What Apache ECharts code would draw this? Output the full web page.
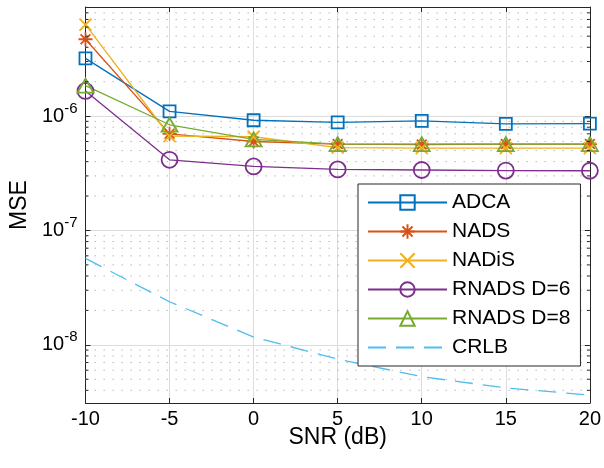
<!DOCTYPE html>
<html>
<head>
<meta charset="utf-8">
<script src="https://cdn.jsdelivr.net/npm/echarts@6/dist/echarts.min.js"></script>
<style>
html,body{margin:0;padding:0;background:#fff}
#main{width:604px;height:468px}
</style>
</head>
<body>
<div id="main"></div>
<script>
// SNR (dB)
var snr = [-10, -5, 0, 5, 10, 15, 20];
// MSE values
var adca  = [3.2e-6, 1.1e-6, 0.92e-6, 0.88e-6, 0.91e-6, 0.855e-6, 0.86e-6];
var nads  = [4.7e-6, 0.70e-6, 0.60e-6, 0.57e-6, 0.565e-6, 0.57e-6, 0.57e-6];
var nadis = [6.3e-6, 0.67e-6, 0.66e-6, 0.53e-6, 0.525e-6, 0.525e-6, 0.525e-6];
var rnads6 = [1.66e-6, 0.415e-6, 0.363e-6, 0.342e-6, 0.338e-6, 0.334e-6, 0.333e-6];
var rnads8 = [1.85e-6, 0.84e-6, 0.625e-6, 0.57e-6, 0.568e-6, 0.568e-6, 0.568e-6];
var crlb  = [5.7e-8, 2.38e-8, 1.17e-8, 7.5e-9, 5.27e-9, 4.2e-9, 3.64e-9];

var names = ['ADCA', 'NADS', 'NADiS', 'RNADS D=6', 'RNADS D=8', 'CRLB'];
var colors = ['#0072BD', '#D95319', '#EDB120', '#7E2F8E', '#77AC30', '#4DBEEE'];

var yMin = 3.1e-9, yMax = 9e-6;
var xMin = -10, xMax = 20;

// minor log grid values (2..9 x 10^k)
var minorVals = [];
for (var e = -9; e <= -6; e++) {
    for (var m = 2; m <= 9; m++) {
        var v = m * Math.pow(10, e);
        if (v > yMin && v < yMax) minorVals.push(v);
    }
}

function pairs(ys) {
    return snr.map(function (x, i) { return [x, ys[i]]; });
}

var symSquare = 'path://M0,0L10,0L10,10L0,10Z';
var symStar = 'path://M5,0L5,10M0,5L10,5M1.5,1.5L8.5,8.5M1.5,8.5L8.5,1.5';
var symX = 'path://M0,0L10,10M0,10L10,0';
var symCircle = 'path://M0,5A5,5,0,1,1,10,5A5,5,0,1,1,0,5Z';
var symTri = 'path://M5,0L10,8.66L0,8.66Z';

function lineSeries(idx, ys, sym, size) {
    return {
        name: names[idx],
        type: 'line',
        data: pairs(ys),
        symbol: sym,
        symbolSize: size,
        showAllSymbol: true,
        lineStyle: { color: colors[idx], width: 1.3 },
        itemStyle: { color: 'none', borderColor: colors[idx], borderWidth: 1.8 },
        emphasis: { disabled: true },
        z: 3
    };
}

// minor grid (dotted) and minor ticks on left/right edges
var minorGrid = [];
var minorTicks = [];
minorVals.forEach(function (v) {
    minorGrid.push([xMin, v], [xMax, v], [xMin, null]);
    minorTicks.push([xMin, v], [xMin + 0.18, v], [xMin, null]);
    minorTicks.push([xMax - 0.18, v], [xMax, v], [xMax, null]);
});

function helper(data, style, z) {
    return {
        type: 'line', data: data, silent: true, z: z,
        symbol: 'none', connectNulls: false,
        lineStyle: style,
        emphasis: { disabled: true },
        tooltip: { show: false }
    };
}

var option = {
    backgroundColor: '#fff',
    animation: false,
    textStyle: { fontFamily: 'Liberation Sans, Arial, sans-serif' },
    grid: { left: 80, right: 13, top: 7, bottom: 65 },
    legend: {
        orient: 'vertical',
        left: 358,
        top: 184,
        data: names,
        itemWidth: 79,
        itemHeight: 18,
        itemGap: 8,
        padding: [8, 10, 8, 9],
        backgroundColor: '#fff',
        borderColor: '#262626',
        borderWidth: 1,
        borderRadius: 0,
        textStyle: { fontSize: 21, color: '#000', lineHeight: 21 }
    },
    xAxis: [{
        type: 'value', min: xMin, max: xMax, interval: 5,
        name: 'SNR (dB)', nameLocation: 'middle', nameGap: 23,
        nameMoveOverlap: false,
        nameTextStyle: { fontSize: 23, color: '#000' },
        axisLine: { onZero: false, lineStyle: { color: '#262626', width: 1 } },
        axisTick: { inside: true, length: 5, lineStyle: { color: '#262626' } },
        axisLabel: { fontSize: 20, color: '#000', margin: 6 },
        splitLine: { show: true, lineStyle: { color: '#dcdcdc', width: 1 } }
    }, {
        type: 'value', min: xMin, max: xMax, interval: 5, position: 'top',
        axisLine: { onZero: false, lineStyle: { color: '#262626', width: 1 } },
        axisTick: { inside: true, length: 5, lineStyle: { color: '#262626' } },
        axisLabel: { show: false },
        splitLine: { show: false }
    }],
    yAxis: [{
        type: 'log', logBase: 10, min: yMin, max: yMax,
        name: 'MSE', nameLocation: 'middle', nameGap: 49,
        nameTextStyle: { fontSize: 23, color: '#000' },
        axisLine: { onZero: false, lineStyle: { color: '#262626', width: 1 } },
        axisTick: { inside: true, length: 5, lineStyle: { color: '#262626' } },
        axisLabel: {
            margin: 8,
            formatter: function (v) {
                var e = Math.round(Math.log10(v));
                if (Math.abs(v / Math.pow(10, e) - 1) > 1e-6) return '';
                return '{b|10}{s|' + e + '}';
            },
            rich: {
                b: { fontSize: 20, lineHeight: 20, color: '#000', fontFamily: 'Liberation Sans', verticalAlign: 'bottom', padding: [9, 0, 0, 0] },
                s: { fontSize: 15, lineHeight: 15, color: '#000', fontFamily: 'Liberation Sans', verticalAlign: 'bottom', padding: [0, 0, 10, 0] }
            }
        },
        splitLine: { show: true, lineStyle: { color: '#dcdcdc', width: 1 } }
    }, {
        type: 'log', logBase: 10, min: yMin, max: yMax, position: 'right',
        axisLine: { onZero: false, lineStyle: { color: '#262626', width: 1 } },
        axisTick: { inside: true, length: 5, lineStyle: { color: '#262626' } },
        axisLabel: { show: false },
        splitLine: { show: false }
    }],
    series: [
        helper(minorGrid, { color: '#b8b8b8', width: 1, type: [1.5, 7.5] }, 1),
        helper(minorTicks, { color: '#262626', width: 1, type: 'solid' }, 4),
        lineSeries(0, adca, symSquare, 12),
        lineSeries(1, nads, symStar, 14),
        lineSeries(2, nadis, symX, 12),
        lineSeries(3, rnads6, symCircle, 16),
        lineSeries(4, rnads8, symTri, [16, 14]),
        {
            name: names[5],
            type: 'line',
            data: pairs(crlb),
            symbol: 'circle',
            showSymbol: false,
            lineStyle: { color: colors[5], width: 1.3, type: [18, 10] },
            itemStyle: { color: 'none', borderWidth: 0 },
            emphasis: { disabled: true },
            z: 3
        }
    ]
};

echarts.init(document.getElementById('main')).setOption(option);
</script>
</body>
</html>
